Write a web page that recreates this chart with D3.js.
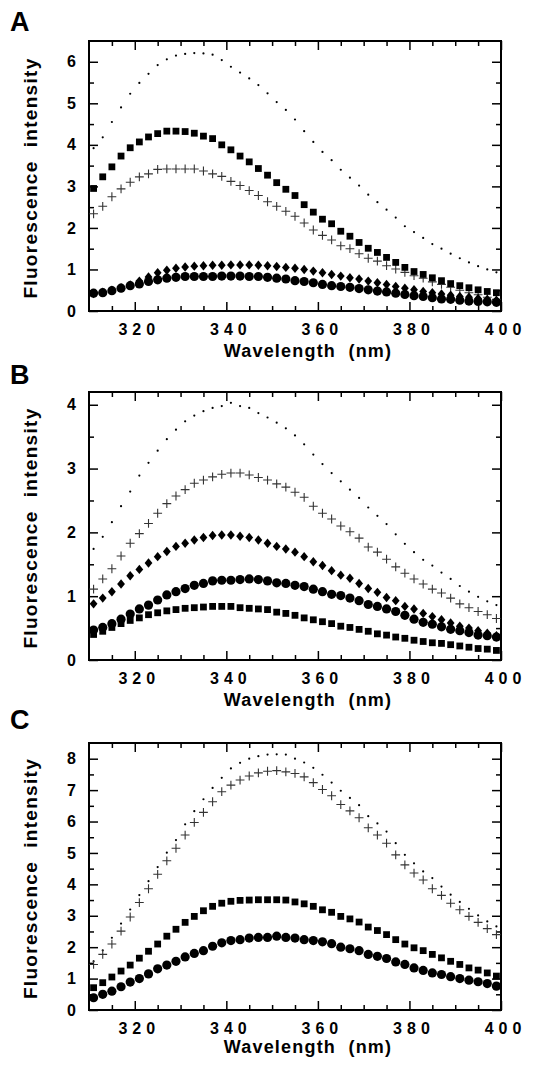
<!DOCTYPE html>
<html>
<head>
<meta charset="utf-8">
<script src="https://cdn.jsdelivr.net/npm/d3@7/dist/d3.min.js"></script>
<style>
  body { margin: 0; background: #fff; }
  svg text { font-family: "Liberation Sans", Arial, Helvetica, sans-serif; font-weight: bold; fill: #000; }
</style>
</head>
<body>
<div id="chart"></div>
<script>
// wavelengths (nm) of the measured points, shared by all panels
const wavelengths = [311,313,315,317,319,321,323,325,327,329,331,333,335,337,339,341,343,345,347,349,
  351,353,355,357,359,361,363,365,367,369,371,373,375,377,379,381,383,385,387,389,391,393,395,397,399];

const xTickLabels = [320, 340, 360, 380, 400];

// panel A
const aDots = [3.92,4.18,4.55,4.90,5.23,5.49,5.71,5.92,6.06,6.15,6.19,6.21,6.20,6.17,6.04,5.88,5.74,5.60,5.44,5.24,
  5.03,4.84,4.61,4.33,4.07,3.83,3.63,3.40,3.21,3.02,2.80,2.62,2.44,2.25,2.04,1.90,1.76,1.61,1.50,1.38,1.27,1.17,1.08,1.00,0.93];
const aSquares = [2.95,3.23,3.47,3.73,3.93,4.07,4.19,4.27,4.33,4.33,4.32,4.28,4.21,4.15,4.00,3.88,3.73,3.59,3.43,3.27,
  3.09,2.93,2.78,2.56,2.38,2.21,2.10,1.92,1.80,1.65,1.51,1.41,1.29,1.17,1.05,0.95,0.88,0.80,0.73,0.66,0.61,0.56,0.51,0.47,0.44];
const aPlus = [2.34,2.52,2.75,2.94,3.10,3.23,3.30,3.41,3.42,3.42,3.42,3.42,3.37,3.30,3.24,3.12,3.02,2.90,2.78,2.63,
  2.52,2.40,2.28,2.12,1.95,1.82,1.71,1.57,1.50,1.38,1.27,1.20,1.09,1.01,0.93,0.85,0.79,0.70,0.64,0.57,0.50,0.44,0.39,0.33,0.28];
const aDiamonds = [0.42,0.45,0.50,0.56,0.63,0.72,0.82,0.92,0.98,1.03,1.06,1.08,1.09,1.10,1.10,1.11,1.11,1.11,1.10,1.09,
  1.07,1.05,1.03,1.00,0.96,0.92,0.88,0.84,0.80,0.77,0.72,0.68,0.64,0.59,0.55,0.51,0.47,0.44,0.41,0.38,0.35,0.33,0.30,0.28,0.26];
const aCircles = [0.43,0.44,0.49,0.55,0.61,0.65,0.71,0.75,0.79,0.81,0.83,0.83,0.83,0.83,0.84,0.84,0.84,0.83,0.83,0.81,
  0.79,0.77,0.73,0.71,0.68,0.64,0.61,0.59,0.57,0.54,0.51,0.48,0.46,0.43,0.40,0.37,0.35,0.32,0.29,0.28,0.26,0.24,0.23,0.22,0.21];

// panel B
const bDots = [1.74,1.93,2.16,2.41,2.64,2.89,3.09,3.28,3.46,3.61,3.74,3.83,3.90,3.95,3.98,4.03,3.98,3.95,3.87,3.80,
  3.72,3.63,3.52,3.38,3.22,3.07,2.93,2.80,2.67,2.54,2.39,2.26,2.13,1.97,1.82,1.69,1.57,1.48,1.37,1.27,1.16,1.07,0.99,0.92,0.86];
const bPlus = [1.11,1.27,1.43,1.63,1.83,1.98,2.14,2.30,2.45,2.57,2.67,2.77,2.82,2.87,2.91,2.93,2.93,2.90,2.86,2.82,
  2.76,2.71,2.63,2.55,2.41,2.30,2.21,2.10,2.01,1.91,1.77,1.69,1.58,1.46,1.36,1.27,1.19,1.11,1.05,0.97,0.88,0.82,0.76,0.71,0.65];
const bDiamonds = [0.88,0.97,1.07,1.19,1.32,1.42,1.52,1.62,1.70,1.78,1.83,1.88,1.92,1.95,1.96,1.96,1.94,1.92,1.88,1.83,
  1.78,1.74,1.69,1.62,1.54,1.48,1.40,1.33,1.28,1.20,1.12,1.06,0.98,0.93,0.84,0.80,0.73,0.68,0.63,0.58,0.53,0.50,0.46,0.42,0.38];
const bCircles = [0.47,0.51,0.57,0.64,0.72,0.80,0.86,0.94,1.02,1.07,1.12,1.17,1.20,1.24,1.25,1.25,1.26,1.27,1.26,1.24,
  1.21,1.20,1.17,1.15,1.11,1.07,1.03,1.01,0.97,0.93,0.87,0.84,0.80,0.76,0.70,0.64,0.59,0.56,0.52,0.48,0.46,0.43,0.39,0.38,0.36];
const bSquares = [0.40,0.45,0.51,0.57,0.62,0.66,0.71,0.74,0.77,0.79,0.81,0.82,0.83,0.84,0.84,0.84,0.82,0.81,0.80,0.79,
  0.75,0.73,0.70,0.66,0.63,0.60,0.57,0.53,0.51,0.48,0.45,0.41,0.39,0.36,0.34,0.31,0.29,0.27,0.26,0.24,0.22,0.20,0.18,0.17,0.15];

// panel C
const cDots = [1.55,1.90,2.30,2.75,3.20,3.66,4.10,4.55,5.01,5.41,5.91,6.33,6.71,7.07,7.39,7.69,7.87,8.00,8.08,8.13,
  8.14,8.13,8.00,7.88,7.71,7.49,7.24,6.98,6.75,6.52,6.17,5.94,5.68,5.31,4.94,4.67,4.41,4.20,3.93,3.67,3.44,3.22,3.01,2.82,2.66];
const cPlus = [1.45,1.77,2.10,2.51,2.96,3.42,3.86,4.32,4.75,5.15,5.57,5.97,6.29,6.63,6.95,7.16,7.32,7.45,7.55,7.60,
  7.62,7.58,7.53,7.42,7.24,7.02,6.82,6.54,6.34,6.12,5.80,5.57,5.31,4.94,4.62,4.36,4.14,3.86,3.65,3.40,3.19,2.98,2.79,2.59,2.40];
const cSquares = [0.71,0.87,1.05,1.24,1.43,1.65,1.87,2.10,2.35,2.57,2.79,2.98,3.16,3.30,3.40,3.46,3.49,3.50,3.51,3.51,
  3.51,3.50,3.44,3.38,3.30,3.19,3.11,2.98,2.90,2.80,2.64,2.53,2.40,2.24,2.10,1.98,1.89,1.77,1.66,1.55,1.45,1.34,1.27,1.18,1.08];
const cCircles = [0.39,0.50,0.60,0.74,0.89,1.00,1.15,1.31,1.43,1.55,1.69,1.80,1.89,2.03,2.14,2.21,2.24,2.29,2.31,2.31,
  2.35,2.31,2.29,2.24,2.21,2.17,2.11,2.00,1.95,1.89,1.77,1.71,1.64,1.53,1.45,1.34,1.26,1.18,1.13,1.06,1.00,0.95,0.90,0.84,0.76];

// layout of the three panels
const panels = [
  {letter: 'A', top: 41, bottom: 311, yMax: 6.5, letterY: 31, titleY: 357,
   series: [['dot', aDots], ['plus', aPlus], ['square', aSquares], ['diamond', aDiamonds], ['circle', aCircles]]},
  {letter: 'B', top: 392, bottom: 660, yMax: 4.2, letterY: 384, titleY: 706,
   series: [['dot', bDots], ['plus', bPlus], ['diamond', bDiamonds], ['square', bSquares], ['circle', bCircles]]},
  {letter: 'C', top: 743, bottom: 1010, yMax: 8.5, letterY: 729, titleY: 1053,
   series: [['dot', cDots], ['plus', cPlus], ['square', cSquares], ['circle', cCircles]]}
];

const left = 89, right = 501;

const svg = d3.select('#chart')
    .append('svg')
    .attr('width', 540)
    .attr('height', 1066);

const xScale = d3.scaleLinear().domain([310, 400]).range([left, right]);

// marker shapes
const markerPath = {
    square: 'M-3.4,-3.4h6.8v6.8h-6.8z',
    diamond: 'M0,-4.7L3.9,0L0,4.7L-3.9,0z',
    plus: 'M-4.4,0H4.4M0,-4.4V4.4'
};

panels.forEach(p => {
    const yScale = d3.scaleLinear().domain([0, p.yMax]).range([p.bottom, p.top]);
    const g = svg.append('g');

    const xMinor = d3.range(315, 400, 5).filter(v => v % 20 !== 0);
    const yMajor = d3.range(0, Math.floor(p.yMax) + 1);
    const yMinor = d3.range(0.5, p.yMax, 1);

    // inward ticks on all four sides
    const styleAxis = sel => {
        sel.select('.domain').remove();
        sel.selectAll('line').attr('stroke', '#000').attr('stroke-width', 1.5);
    };

    g.append('g').attr('transform', `translate(0,${p.bottom})`)
        .call(d3.axisBottom(xScale).tickValues(xTickLabels).tickSize(-9).tickPadding(13))
        .call(styleAxis)
        .call(s => s.selectAll('text')
            .style('font-size', '16px').style('letter-spacing', '5px').attr('dx', 4));
    g.append('g').attr('transform', `translate(0,${p.bottom})`)
        .call(d3.axisBottom(xScale).tickValues(xMinor).tickSize(-5).tickFormat(''))
        .call(styleAxis);
    g.append('g').attr('transform', `translate(0,${p.top})`)
        .call(d3.axisTop(xScale).tickValues(xTickLabels).tickSize(-9).tickFormat(''))
        .call(styleAxis);
    g.append('g').attr('transform', `translate(0,${p.top})`)
        .call(d3.axisTop(xScale).tickValues(xMinor).tickSize(-5).tickFormat(''))
        .call(styleAxis);

    g.append('g').attr('transform', `translate(${left},0)`)
        .call(d3.axisLeft(yScale).tickValues(yMajor).tickSize(-9).tickPadding(13).tickFormat(d3.format('d')))
        .call(styleAxis)
        .call(s => s.selectAll('text').style('font-size', '16px'));
    g.append('g').attr('transform', `translate(${left},0)`)
        .call(d3.axisLeft(yScale).tickValues(yMinor).tickSize(-5).tickFormat(''))
        .call(styleAxis);
    g.append('g').attr('transform', `translate(${right},0)`)
        .call(d3.axisRight(yScale).tickValues(yMajor).tickSize(-9).tickFormat(''))
        .call(styleAxis);
    g.append('g').attr('transform', `translate(${right},0)`)
        .call(d3.axisRight(yScale).tickValues(yMinor).tickSize(-5).tickFormat(''))
        .call(styleAxis);

    // frame
    g.append('rect')
        .attr('x', left).attr('y', p.top)
        .attr('width', right - left).attr('height', p.bottom - p.top)
        .attr('fill', 'none').attr('stroke', '#000').attr('stroke-width', 2);

    // data markers
    p.series.forEach(([shape, values]) => {
        const pts = values.map((v, i) => ({x: wavelengths[i], y: v}));
        const sel = g.append('g').selectAll('.pt').data(pts).enter();
        if (shape === 'circle') {
            sel.append('circle')
                .attr('cx', d => xScale(d.x)).attr('cy', d => yScale(d.y))
                .attr('r', 4.6).attr('fill', '#000');
        } else if (shape === 'dot') {
            sel.append('circle')
                .attr('cx', d => xScale(d.x)).attr('cy', d => yScale(d.y))
                .attr('r', 1.1).attr('fill', '#000');
        } else if (shape === 'plus') {
            sel.append('path')
                .attr('transform', d => `translate(${xScale(d.x)},${yScale(d.y)})`)
                .attr('d', markerPath.plus)
                .attr('stroke', '#333').attr('stroke-width', 1.1).attr('fill', 'none');
        } else {
            sel.append('path')
                .attr('transform', d => `translate(${xScale(d.x)},${yScale(d.y)})`)
                .attr('d', markerPath[shape])
                .attr('fill', '#000');
        }
    });

    // labels
    svg.append('text')
        .attr('x', 10).attr('y', p.letterY)
        .style('font-size', '27px')
        .text(p.letter);

    svg.append('text')
        .attr('x', 308).attr('y', p.titleY)
        .attr('text-anchor', 'middle')
        .style('font-size', '18px').style('letter-spacing', '1.2px')
        .style('white-space', 'pre')
        .text('Wavelength  (nm)');

    svg.append('text')
        .attr('transform', `translate(37,${(p.top + p.bottom) / 2 + 2}) rotate(-90)`)
        .attr('text-anchor', 'middle')
        .style('font-size', '19px').style('letter-spacing', '1.3px')
        .style('white-space', 'pre')
        .text('Fluorescence  intensity');
});
</script>
</body>
</html>
